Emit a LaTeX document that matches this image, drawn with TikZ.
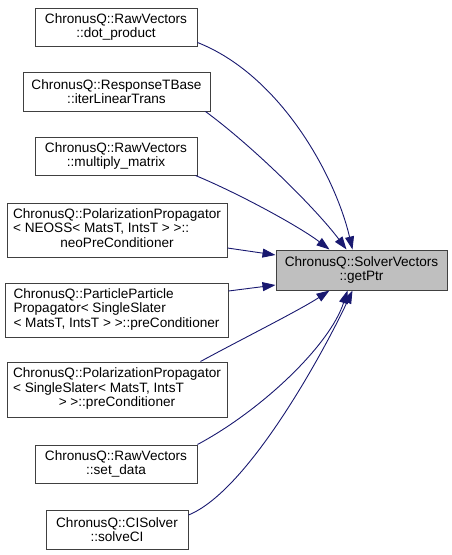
\documentclass[tikz,border=0pt]{standalone}
\usepackage{fontspec}
\setmainfont{Liberation Sans}
\usetikzlibrary{arrows.meta}
\definecolor{edgeblue}{HTML}{191970}
\definecolor{boxline}{HTML}{404040}
\definecolor{curfill}{HTML}{BFBFBF}
\begin{document}
\begin{tikzpicture}[x=1pt,y=-1pt,
  box/.style={draw=boxline,line width=1pt,fill=white,inner sep=0pt,align=center,
    font=\fontsize{13.6}{14.5}\selectfont},
  curbox/.style={box,fill=curfill},
  edge/.style={draw=edgeblue,line width=0.9pt,-{Triangle[length=13pt,width=9pt]}}]
\useasboundingbox (0,0) rectangle (452,555);
\node[box,minimum width=162pt,minimum height=38pt] (dot) at (116,27) {ChronusQ::RawVectors\\::dot\_product};
\node[box,minimum width=187pt,minimum height=39pt] (iter) at (116.5,91.5) {ChronusQ::ResponseTBase\\::iterLinearTrans};
\node[box,minimum width=162pt,minimum height=38pt] (mult) at (116,156) {ChronusQ::RawVectors\\::multiply\_matrix};
\node[box,minimum width=220pt,minimum height=54pt] (neo) at (117,230) {\begin{tabular}{@{}l@{}}ChronusQ::PolarizationPropagator\\< NEOSS< MatsT, IntsT > >::\\\multicolumn{1}{@{}c@{}}{neoPreConditioner}\end{tabular}};
\node[box,minimum width=223pt,minimum height=54pt] (pp) at (116.5,310) {\begin{tabular}{@{}l@{}}ChronusQ::ParticleParticle\\Propagator< SingleSlater\\\multicolumn{1}{@{}c@{}}{< MatsT, IntsT > >::preConditioner}\end{tabular}};
\node[box,minimum width=220pt,minimum height=55pt] (polss) at (117,389.5) {\begin{tabular}{@{}l@{}}ChronusQ::PolarizationPropagator\\< SingleSlater< MatsT, IntsT\\\multicolumn{1}{@{}c@{}}{> >::preConditioner}\end{tabular}};
\node[box,minimum width=162pt,minimum height=38pt] (setd) at (116,464) {ChronusQ::RawVectors\\::set\_data};
\node[box,minimum width=142pt,minimum height=39pt] (solve) at (117,529.5) {ChronusQ::CISolver\\::solveCI};
\node[curbox,minimum width=171pt,minimum height=40pt] (t) at (361.5,270) {ChronusQ::SolverVectors\\::getPtr};
\draw[edge] ([yshift=4pt]dot.south east) .. controls (280,75) and (335,175) .. ([xshift=77pt]t.north west);
\draw[edge] ([xshift=-5pt]iter.south east) .. controls (255,148) and (317,210) .. ([xshift=71pt]t.north west);
\draw[edge] ([xshift=-2pt]mult.south east) .. controls (240,194) and (300,227) .. ([xshift=54pt]t.north west);
\draw[edge] ([yshift=-18pt]neo.east) -- ([yshift=15pt]t.west);
\draw[edge] ([yshift=19pt]pp.east) -- ([yshift=-15pt]t.west);
\draw[edge] ([xshift=-27pt]polss.north east) .. controls (240,340) and (300,310) .. ([xshift=54pt]t.south west);
\draw[edge] (setd.north east) .. controls (262,410) and (330,345) .. ([xshift=72pt]t.south west);
\draw[edge] ([yshift=14.5pt]solve.east) .. controls (250,490) and (327,345) .. ([xshift=77pt]t.south west);
\end{tikzpicture}
\end{document}
